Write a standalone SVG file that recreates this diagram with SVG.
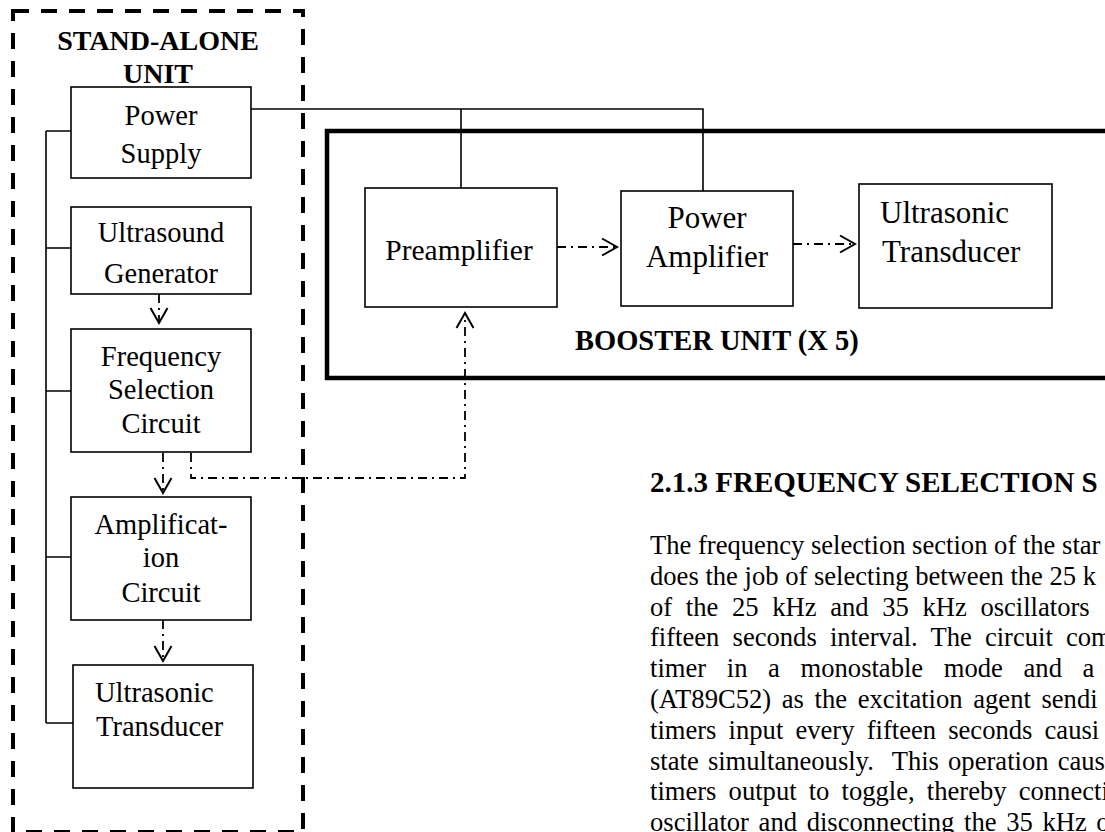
<svg xmlns="http://www.w3.org/2000/svg" width="1105" height="832" viewBox="0 0 1105 832">
<style>
.box{fill:#fff;stroke:#000;stroke-width:1.6}
.t{font-family:"Liberation Serif","Times New Roman",serif;fill:#000}
.c{text-anchor:middle}
.b{font-weight:bold}
.wire{fill:none;stroke:#000;stroke-width:1.6}
.flow{fill:none;stroke:#000;stroke-width:1.8;stroke-dasharray:9 5 2 5}
.para{font-family:"Liberation Serif","Times New Roman",serif;font-size:26.6px;fill:#000}
</style>
<defs>
<marker id="vh" markerUnits="userSpaceOnUse" markerWidth="20" markerHeight="20" refX="16" refY="10" orient="auto">
<path d="M1,1.5 L16,10 L1,18.5" fill="none" stroke="#000" stroke-width="2"/>
</marker>
</defs>
<rect id="standalone-frame" x="13" y="11" width="290" height="821" fill="none" stroke="#000" stroke-width="4" stroke-dasharray="16 12"/>
<text class="t b c" x="158" y="50" font-size="28">STAND-ALONE</text>
<text class="t b c" x="158" y="83" font-size="28">UNIT</text>
<path id="booster-frame" d="M1110,131 H327 V378 H1110" fill="none" stroke="#000" stroke-width="4.5"/>
<text class="t b" x="575" y="350" font-size="28.5">BOOSTER UNIT (X 5)</text>
<g id="connectors">
<path class="wire" d="M46,131 V723 M46,131 H71 M46,248 H73 M46,391 H71 M46,557 H71 M46,723 H73"/>
<path class="wire" d="M251,109 H703 V191 M461,109 V188"/>
<path class="flow" d="M159,294 V323" marker-end="url(#vh)"/>
<path class="flow" d="M163,453 V493" marker-end="url(#vh)"/>
<path class="flow" d="M163,620 V661" marker-end="url(#vh)"/>
<path class="flow" d="M557,247 H617" marker-end="url(#vh)"/>
<path class="flow" d="M793,244 H855" marker-end="url(#vh)"/>
<path class="flow" d="M191,453 V478 H465 V313" stroke-dasharray="10 6 2 6" marker-end="url(#vh)"/>
</g>
<g id="power-supply">
<rect class="box" x="71" y="87" width="180" height="91"/>
<text class="t c" x="161" y="125" font-size="28.5">Power</text>
<text class="t c" x="161" y="163" font-size="28.5">Supply</text>
</g>
<g id="ultrasound-generator">
<rect class="box" x="71" y="207" width="180" height="87"/>
<text class="t c" x="161" y="242" font-size="28.5">Ultrasound</text>
<text class="t c" x="161" y="283" font-size="28.5">Generator</text>
</g>
<g id="frequency-selection">
<rect class="box" x="71" y="329" width="180" height="123"/>
<text class="t c" x="161" y="366" font-size="28.5">Frequency</text>
<text class="t c" x="161" y="399" font-size="28.5">Selection</text>
<text class="t c" x="161" y="433" font-size="28.5">Circuit</text>
</g>
<g id="amplification">
<rect class="box" x="71" y="497" width="180" height="123"/>
<text class="t c" x="161" y="534" font-size="28.5">Amplificat-</text>
<text class="t c" x="161" y="567" font-size="28.5">ion</text>
<text class="t c" x="161" y="602" font-size="28.5">Circuit</text>
</g>
<g id="transducer-left">
<rect class="box" x="73" y="665" width="180" height="123"/>
<text class="t" x="95" y="702" font-size="28.5">Ultrasonic</text>
<text class="t" x="96" y="736" font-size="28.5">Transducer</text>
</g>
<g id="preamplifier">
<rect class="box" x="365" y="188" width="192" height="119"/>
<text class="t c" x="459" y="260" font-size="29.5">Preamplifier</text>
</g>
<g id="power-amplifier">
<rect class="box" x="621" y="191" width="172" height="115"/>
<text class="t c" x="707" y="228" font-size="31">Power</text>
<text class="t c" x="707" y="267" font-size="31">Amplifier</text>
</g>
<g id="transducer-right">
<rect class="box" x="859" y="184" width="193" height="124"/>
<text class="t" x="880" y="223" font-size="31">Ultrasonic</text>
<text class="t" x="882" y="262" font-size="31">Transducer</text>
</g>
<text class="t b" x="650" y="492" font-size="29">2.1.3 FREQUENCY SELECTION S</text>
<g id="paragraph" class="para">
<text x="650" y="554">The frequency selection section of the star</text>
<text x="650" y="585">does the job of selecting between the 25 k</text>
<text x="650" y="616" word-spacing="7">of the 25 kHz and 35 kHz oscillators</text>
<text x="650" y="646" word-spacing="6.5">fifteen seconds interval. The circuit com</text>
<text x="650" y="677" word-spacing="14">timer in a monostable mode and a</text>
<text x="650" y="708" word-spacing="4">(AT89C52) as the excitation agent sendi</text>
<text x="650" y="739" word-spacing="5.5">timers input every fifteen seconds causi</text>
<text x="650" y="770" word-spacing="2.5">state simultaneously.&#160; This operation caus</text>
<text x="650" y="800" word-spacing="5.5">timers output to toggle, thereby connecti</text>
<text x="650" y="831" word-spacing="3">oscillator and disconnecting the 35 kHz o</text>
</g>
</svg>
